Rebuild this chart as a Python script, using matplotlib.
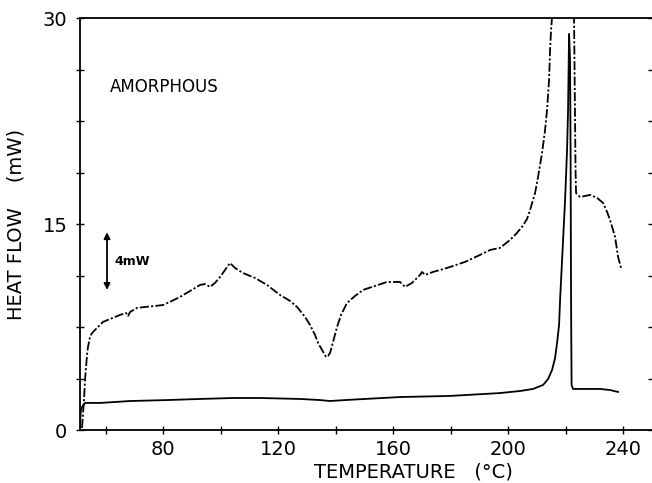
import numpy as np
import matplotlib
matplotlib.use("Agg")
import matplotlib.pyplot as plt
from matplotlib.ticker import MultipleLocator, FixedLocator


# Data
# upper dash-dot trace: amorphous sample (values above 30 run off the top)
temp_amorph = [51.70, 52.39, 52.74, 53.44, 53.78, 54.48, 55.18, 56.57, 59.00, 61.44,
               64.92, 67.01, 67.70, 68.40, 70.83, 73.62, 77.10, 79.88, 83.01, 85.79,
               89.27, 92.75, 94.49, 96.23, 97.97, 99.71, 101.45, 103.19, 104.93, 107.71,
               111.89, 116.07, 120.59, 124.07, 126.51, 129.29, 131.03, 132.77, 133.81, 135.20,
               136.60, 137.29, 137.99, 139.03, 140.42, 141.81, 143.90, 146.68, 149.47, 153.64,
               157.82, 162.34, 164.08, 166.52, 169.30, 170.00, 171.04, 173.83, 176.26, 179.74,
               184.96, 190.18, 193.66, 197.14, 200.62, 202.71, 204.79, 206.53, 207.58, 209.32,
               210.36, 211.75, 212.80, 213.49, 214.19, 214.54, 214.88, 215.23, 215.60,
               222.70, 222.88, 223.23, 223.40, 223.58, 224.97, 226.71, 228.45, 230.89, 232.98,
               234.37, 235.41, 237.15, 238.20, 239.24]
hf_amorph = [0.15, 2.18, 3.64, 5.46, 6.05, 6.77, 7.06, 7.36, 7.87, 8.08,
             8.38, 8.52, 8.30, 8.59, 8.89, 8.96, 9.03, 9.10, 9.40, 9.69,
             10.12, 10.56, 10.63, 10.42, 10.71, 11.14, 11.65, 12.16, 11.80, 11.43,
             11.07, 10.56, 9.83, 9.40, 8.96, 8.23, 7.65, 6.92, 6.34, 5.83,
             5.32, 5.39, 5.61, 6.41, 7.50, 8.38, 9.25, 9.76, 10.20, 10.49,
             10.78, 10.78, 10.42, 10.71, 11.29, 11.51, 11.29, 11.51, 11.65, 11.87,
             12.24, 12.75, 13.11, 13.26, 13.84, 14.28, 14.79, 15.37, 16.02, 17.26,
             18.43, 20.17, 21.85, 23.31, 25.49, 27.68, 29.13, 30.08, 32.0,
             32.0, 30.01, 22.58, 18.94, 17.26, 16.97, 17.04, 17.12, 16.90, 16.53,
             15.88, 15.29, 14.06, 12.60, 11.80]

# lower solid trace
temp_base = [51.00, 51.17, 51.35, 51.70, 52.74, 57.96, 68.40, 81.27, 92.75, 104.24,
             113.63, 127.55, 134.51, 137.99, 143.21, 162.34, 179.74, 197.14, 204.10, 208.62,
             212.10, 213.84, 215.23, 216.28, 216.97, 217.67, 218.02, 219.76, 220.45, 220.80,
             221.15, 221.49, 221.67, 221.84, 222.02, 222.54, 224.97, 231.93, 235.41, 238.20]
hf_base = [0.15, 1.09, 1.46, 1.68, 1.97, 1.97, 2.11, 2.18, 2.26, 2.33,
           2.33, 2.26, 2.18, 2.11, 2.18, 2.40, 2.48, 2.69, 2.84, 2.99,
           3.28, 3.71, 4.37, 5.24, 6.34, 7.65, 9.47, 16.75, 20.39, 23.31,
           28.84, 26.95, 20.39, 9.47, 3.28, 2.99, 2.99, 2.99, 2.91, 2.77]

x_major = [80, 120, 160, 200, 240]
x_minor = [60, 100, 140, 180, 220]
y_major = [0, 15, 30]
scale_bar = [10.2, 14.4]


def plot_dsc():
    fig = plt.figure(figsize=(6.52, 4.83), dpi=100)
    ax = fig.add_axes([80 / 652, 53 / 483, 572 / 652, 412 / 483])

    # traces
    ax.plot(temp_base, hf_base, color="black", lw=1.3, solid_joinstyle="round")
    ax.plot(temp_amorph, hf_amorph, color="black", lw=1.3, linestyle=(0, (5, 1.2, 1.2, 1.2)))

    # 4 mW scale bar
    ax.annotate("", xy=(60.4, scale_bar[0]), xytext=(60.4, scale_bar[1]),
                arrowprops=dict(arrowstyle="<|-|>", color="black", lw=1.3,
                                mutation_scale=9, shrinkA=0, shrinkB=0))
    ax.text(63.0, sum(scale_bar) / 2, "4mW", fontsize=9, fontweight="bold", va="center")

    ax.text(61.4, 25.0, "AMORPHOUS", fontsize=12, va="center")

    # axes
    ax.set_xlim(51, 250)
    ax.set_ylim(0, 30)
    ax.xaxis.set_major_locator(FixedLocator(x_major))
    ax.xaxis.set_minor_locator(FixedLocator(x_minor))
    ax.yaxis.set_major_locator(FixedLocator(y_major))
    ax.yaxis.set_minor_locator(MultipleLocator(3.75))
    ax.tick_params(which="both", direction="inout", length=6, width=1, labelsize=14)
    ax.tick_params(axis="x", which="both", pad=4)
    ax.tick_params(axis="y", which="both", pad=6, right=True)
    ax.spines["right"].set_visible(False)
    for s in ["left", "top", "bottom"]:
        ax.spines[s].set_linewidth(1.3)

    ax.set_xlabel("TEMPERATURE   (°C)", fontsize=14)
    ax.xaxis.set_label_coords((413 - 80) / 572, (430 - 462) / 412)
    ax.set_ylabel("HEAT FLOW    (mW)", fontsize=14)
    ax.yaxis.set_label_coords((26 - 80) / 572, 0.5)

    fig.savefig("out.png", dpi=100)


if __name__ == "__main__":
    plot_dsc()
